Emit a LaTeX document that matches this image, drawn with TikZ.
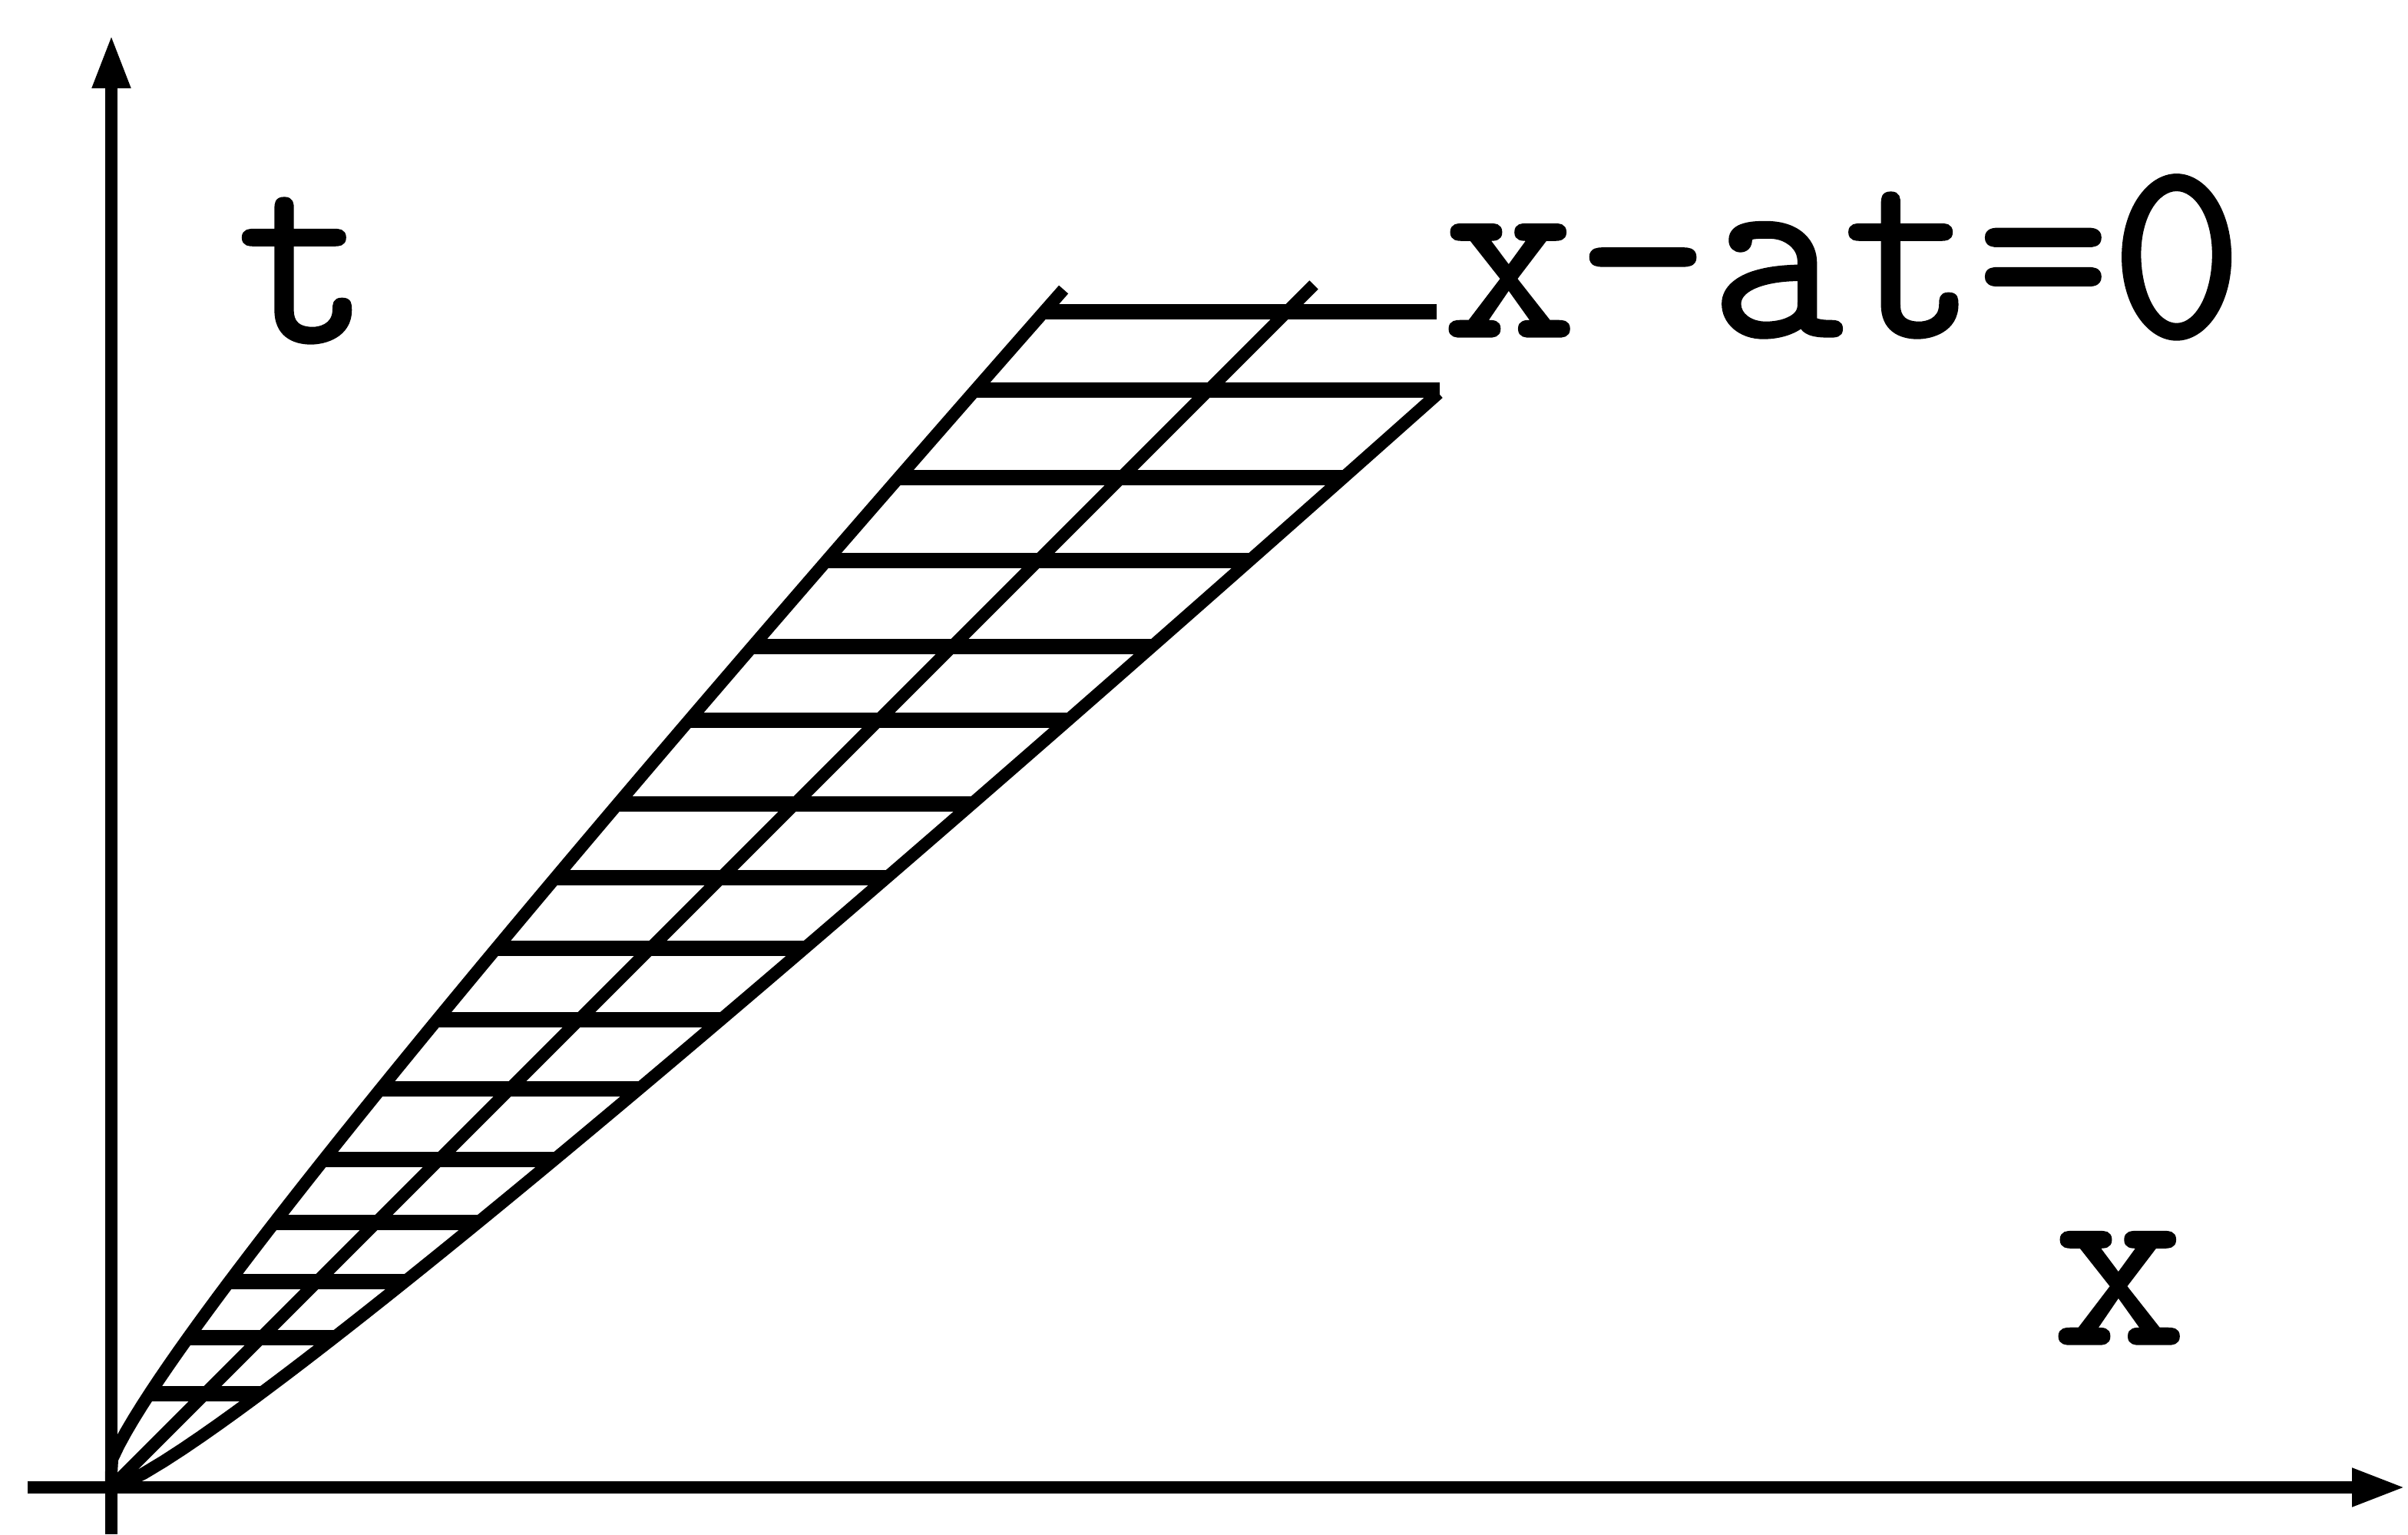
\documentclass[tikz,border=0pt]{standalone}
\usepackage{fontspec}
\newfontfamily\plotfont[FakeBold=1]{Latin Modern Mono}
\usetikzlibrary{arrows.meta}

\begin{document}
\begin{tikzpicture}[line width=4.6pt, >={Triangle[length=7mm,width=4.6mm]},
   curve/.style={line width=4.6pt, line join=round},
   hatch/.style={line width=5.6pt},
   lab/.style={inner sep=0pt, font=\plotfont\fontsize{96}{112}\selectfont}]
  \useasboundingbox (-1.45,-0.61) rectangle (29.91,19.37);
  \coordinate (o) at (0,0);
  \coordinate (tbot) at (0,-0.61); \coordinate (ttop) at (0,18.92);
  \coordinate (xleft) at (-1.09,0); \coordinate (xright) at (29.88,0);
  \draw[->] (tbot) -- (ttop);
  \draw[->] (xleft) -- (xright);
  % the three lines from the origin
  \draw[curve] (o) -- plot[domain=0.02:15.6, samples=90] ({max(0,\x-0.643*\x^0.584)}, \x);
  \coordinate (mtop) at (15.66,15.66);
  \draw[curve] (o) -- (mtop);
  \draw[curve] (o) -- plot[domain=0.02:14.25, samples=90] ({\x+0.643*\x^0.584}, \x);
  % hatching between the outer curves
  \foreach \s in {1.22,1.95,2.68,3.45,4.27,5.19,6.09,7.02,7.94,8.90,9.99,10.95,12.07,13.15,14.29}
    \draw[hatch] ({\s-0.643*\s^0.584},\s) -- ({min(17.3,\s+0.643*\s^0.584)},\s);
  \node[lab, anchor=base west] (eqlab) at (17.26,14.99) {x-at=0};
  \coordinate (hl) at ({15.31-0.643*15.31^0.584},15.31);
  \draw[hatch] (hl) -- (hl -| eqlab.west);
  \node[lab, anchor=base] (tlab) at (2.5,14.92) {t};
  \node[lab, anchor=base] (xlab) at (26.15,1.87) {x};
\end{tikzpicture}
\end{document}
